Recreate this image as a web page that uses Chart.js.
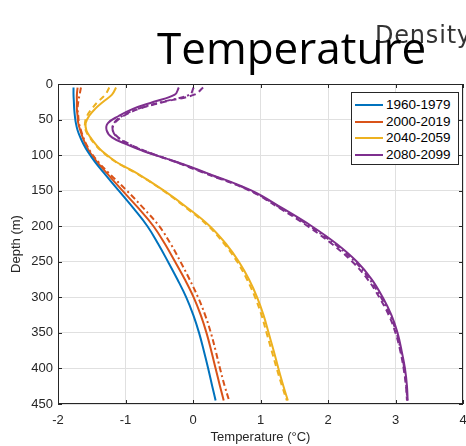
<!DOCTYPE html>
<html>
<head>
<meta charset="utf-8">
<script src="https://cdn.jsdelivr.net/npm/chart.js@4/dist/chart.umd.min.js"></script>
<style>
  html, body { margin: 0; padding: 0; background: #fff; overflow: hidden; }
  #wrap { position: relative; width: 466px; height: 446px; overflow: hidden; }
  #chart { position: absolute; left: 0; top: 0; }
  .title { position: absolute; white-space: nowrap; line-height: 1; }
  #mainTitle { left: 157px; top: 17px; font: 44px "Open Sans", sans-serif; color: #000; }
  #sideTitle { left: 375px; top: 21px; font: 24px "DejaVu Sans", sans-serif; letter-spacing: 0.8px; color: #333; }
  #legend { position: absolute; left: 351px; top: 92px; width: 106px; height: 71px;
            border: 1px solid #262626; background: #fff; font: 13.5px "Liberation Sans", Arial, sans-serif; color: #000; }
  .row { position: absolute; left: 3px; height: 16px; line-height: 16px; white-space: nowrap; }
  .sw { display: inline-block; width: 28px; height: 2px; vertical-align: middle; margin-right: 3px; }
</style>
</head>
<body>
<div id="wrap">
  <canvas id="chart" width="466" height="446"></canvas>
  <div class="title" id="sideTitle">Density</div>
  <div class="title" id="mainTitle">Temperature</div>
  <div id="legend"></div>
</div>
<script>
// depth levels (m)
const depths = [5, 15, 25, 35, 45, 55, 65, 75, 85, 95, 110, 125, 150, 175, 200, 225, 250, 275, 300, 325, 350, 375, 400, 425, 445];

// temperature (°C) at each depth, solid = first run, b/c = dashed runs
const t1960 = [-1.77, -1.77, -1.765, -1.76, -1.75, -1.735, -1.71, -1.67, -1.62, -1.56, -1.45, -1.32, -1.10, -0.88, -0.675, -0.515, -0.37, -0.23, -0.10, 0.005, 0.09, 0.16, 0.225, 0.285, 0.335];
const t2000 = [-1.71, -1.72, -1.72, -1.72, -1.71, -1.70, -1.67, -1.635, -1.59, -1.535, -1.42, -1.28, -1.045, -0.805, -0.585, -0.415, -0.265, -0.12, 0.01, 0.115, 0.20, 0.27, 0.335, 0.40, 0.455];
const t2000b = [-1.66, -1.68, -1.70, -1.71, -1.70, -1.69, -1.66, -1.625, -1.58, -1.52, -1.40, -1.25, -0.98, -0.73, -0.50, -0.33, -0.185, -0.05, 0.075, 0.18, 0.265, 0.335, 0.40, 0.47, 0.535];
const t2040 = [-1.14, -1.20, -1.33, -1.45, -1.54, -1.59, -1.58, -1.52, -1.44, -1.34, -1.13, -0.84, -0.43, -0.07, 0.25, 0.49, 0.68, 0.83, 0.95, 1.045, 1.12, 1.195, 1.265, 1.34, 1.405];
const t2040b = [-1.24, -1.30, -1.41, -1.50, -1.57, -1.60, -1.59, -1.53, -1.45, -1.35, -1.14, -0.85, -0.44, -0.09, 0.23, 0.465, 0.655, 0.80, 0.92, 1.015, 1.09, 1.165, 1.24, 1.32, 1.39];
const t2080 = [-0.21, -0.27, -0.58, -0.89, -1.10, -1.26, -1.28, -1.20, -0.98, -0.72, -0.23, 0.20, 0.87, 1.33, 1.76, 2.13, 2.43, 2.65, 2.81, 2.94, 3.03, 3.09, 3.14, 3.17, 3.18];
const t2080b = [0.15, 0.02, -0.42, -0.80, -1.03, -1.16, -1.19, -1.11, -0.93, -0.69, -0.25, 0.16, 0.84, 1.29, 1.70, 2.06, 2.36, 2.59, 2.76, 2.90, 3.00, 3.07, 3.12, 3.155, 3.17];
const t2080c = [0.01, -0.05, -0.45, -0.82, -1.05, -1.17, -1.19, -1.12, -0.94, -0.70, -0.24, 0.18, 0.85, 1.31, 1.73, 2.10, 2.40, 2.62, 2.785, 2.92, 3.015, 3.08, 3.13, 3.16, 3.175];

const periods = ['1960-1979', '2000-2019', '2040-2059', '2080-2099'];
const colors = ['#0072BD', '#D95319', '#EDB120', '#7E2F8E'];

const xTicks = [-2, -1, 0, 1, 2, 3, 4];
const yTicks = [0, 50, 100, 150, 200, 250, 300, 350, 400, 450];

function pts(vals) {
    return vals.map((t, i) => ({ x: t, y: depths[i] }));
}

function line(label, vals, color, dash) {
    return {
        label: label,
        data: pts(vals),
        borderColor: color,
        backgroundColor: color,
        borderWidth: 2,
        borderDash: dash || [],
        pointRadius: 0,
        showLine: true,
        tension: 0.4,
        fill: false
    };
}

const datasets = [
    line('2080-2099 b', t2080b, colors[3], [6, 4]),
    line('2080-2099 c', t2080c, colors[3], [6, 3, 2, 3]),
    line('2040-2059 b', t2040b, colors[2], [6, 4]),
    line('2000-2019 b', t2000b, colors[1], [6, 3, 2, 3]),
    line(periods[0], t1960, colors[0]),
    line(periods[1], t2000, colors[1]),
    line(periods[2], t2040, colors[2]),
    line(periods[3], t2080, colors[3])
];

// legend box, inside the axes
const legend = document.getElementById('legend');
periods.forEach((p, i) => {
    const row = document.createElement('div');
    row.className = 'row';
    row.style.top = (4 + i * 16.5) + 'px';
    row.innerHTML = '<span class="sw" style="background:' + colors[i] + '"></span><span>' + p + '</span>';
    legend.appendChild(row);
});

// axes box with inward ticks, MATLAB style
const boxPlugin = {
    id: 'box',
    afterDraw(chart) {
        const { ctx, chartArea: a, scales } = chart;
        ctx.save();
        ctx.strokeStyle = '#262626';
        ctx.lineWidth = 1;
        ctx.strokeRect(a.left + 0.5, a.top + 0.5, a.right - a.left - 1, a.bottom - a.top - 1);
        ctx.beginPath();
        xTicks.forEach(v => {
            const x = Math.round(scales.x.getPixelForValue(v)) + 0.5;
            ctx.moveTo(x, a.bottom); ctx.lineTo(x, a.bottom - 4);
            ctx.moveTo(x, a.top); ctx.lineTo(x, a.top + 4);
        });
        yTicks.forEach(v => {
            const y = Math.round(scales.y.getPixelForValue(v)) + 0.5;
            ctx.moveTo(a.left, y); ctx.lineTo(a.left + 4, y);
            ctx.moveTo(a.right, y); ctx.lineTo(a.right - 4, y);
        });
        ctx.stroke();
        ctx.restore();
    }
};

const tickFont = { family: '"Liberation Sans", Arial, sans-serif', size: 13 };

new Chart(document.getElementById('chart'), {
    type: 'scatter',
    data: { datasets: datasets },
    options: {
        responsive: false,
        animation: false,
        layout: { padding: { top: 84, right: 3, left: 0, bottom: 0 } },
        plugins: {
            legend: { display: false },
            tooltip: { enabled: false }
        },
        scales: {
            x: {
                type: 'linear',
                min: -2,
                max: 4,
                afterBuildTicks: s => { s.ticks = xTicks.map(v => ({ value: v })); },
                afterFit: s => { s.height = 42; s.paddingLeft = 0; s.paddingRight = 0; },
                ticks: { font: tickFont, color: '#262626', padding: 9, maxRotation: 0, autoSkip: false },
                grid: { color: '#e0e0e0', drawTicks: false },
                border: { display: false },
                title: {
                    display: true,
                    text: 'Temperature (°C)',
                    font: tickFont,
                    color: '#262626',
                    padding: { top: 0, bottom: 1 }
                }
            },
            y: {
                type: 'linear',
                reverse: true,
                min: 0,
                max: 450,
                afterBuildTicks: s => { s.ticks = yTicks.map(v => ({ value: v })); },
                afterFit: s => { s.width = 58; s.paddingTop = 0; s.paddingBottom = 0; },
                ticks: { font: tickFont, color: '#262626', padding: 5, autoSkip: false },
                grid: { color: '#e0e0e0', drawTicks: false },
                border: { display: false },
                title: {
                    display: true,
                    text: 'Depth (m)',
                    font: tickFont,
                    color: '#262626',
                    padding: { top: 9, bottom: 0 }
                }
            }
        }
    },
    plugins: [boxPlugin]
});
</script>
</body>
</html>
